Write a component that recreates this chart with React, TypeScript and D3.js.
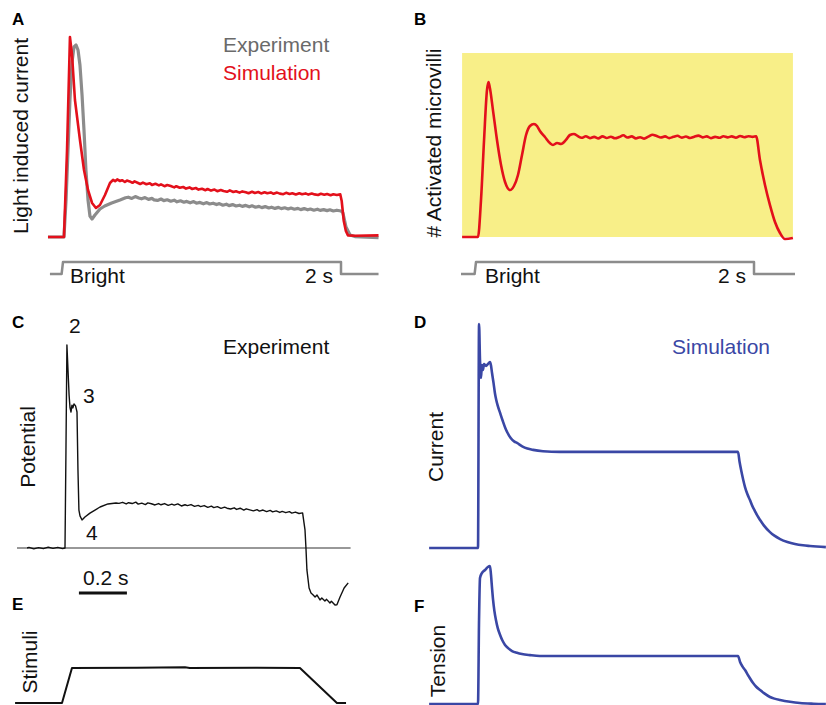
import React from "react";
import * as d3 from "d3";

type P = [number, number];

// ---------- Panel A: light induced current (t in s, value in % of simulated peak)
const simA: P[] = [
  [-0.108, 0], [0.007, 0], [0.029, 43.5], [0.05, 100], [0.065, 91], [0.086, 68.5], [0.122, 48.5],
  [0.151, 33.5], [0.18, 23.5], [0.209, 17], [0.237, 14.5], [0.266, 16], [0.302, 21], [0.338, 27],
  [0.36, 28.6], [0.375, 27.9], [0.39, 28.8], [0.41, 28.0], [0.425, 28.4], [0.445, 27.5], [0.46, 28.2],
  [0.48, 27.8], [0.50, 27.1], [0.515, 27.8], [0.54, 27.0], [0.555, 26.5], [0.575, 27.2], [0.60, 26.4],
  [0.625, 26.9], [0.64, 26.0], [0.665, 26.6], [0.69, 25.8], [0.705, 26.3], [0.73, 25.4], [0.75, 26.0],
  [0.775, 25.5], [0.80, 24.8], [0.815, 25.4], [0.84, 24.6], [0.865, 25.0], [0.885, 24.2], [0.91, 24.8],
  [0.93, 24.0], [0.955, 24.5], [0.975, 23.7], [1.0, 24.1], [1.025, 23.4], [1.04, 24.0], [1.065, 23.2],
  [1.09, 23.7], [1.11, 22.9], [1.135, 23.5], [1.155, 23.0], [1.18, 22.6], [1.20, 23.3], [1.225, 22.5],
  [1.245, 22.9], [1.27, 22.2], [1.29, 22.8], [1.315, 22.4], [1.335, 21.9], [1.36, 22.6], [1.38, 22.0],
  [1.405, 22.5], [1.425, 21.8], [1.45, 22.4], [1.47, 21.9], [1.495, 22.3], [1.515, 21.6], [1.54, 22.2],
  [1.56, 21.7], [1.585, 21.4], [1.605, 22.1], [1.63, 21.5], [1.65, 21.9], [1.675, 21.3], [1.70, 21.9],
  [1.72, 21.4], [1.745, 21.8], [1.765, 21.2], [1.79, 21.7], [1.81, 21.3], [1.835, 21.0], [1.855, 21.6],
  [1.88, 21.1], [1.90, 21.5], [1.925, 20.9], [1.945, 21.4], [1.97, 21.0], [1.995, 21.3],
  [2.005, 18], [2.02, 8], [2.035, 3], [2.05, 0.8], [2.1, 0.6], [2.27, 0.8],
];
const expA: P[] = [
  [-0.108, 0], [0.007, 0], [0.022, 18.5], [0.036, 43.5], [0.05, 68.5], [0.065, 87.5], [0.079, 95],
  [0.094, 96], [0.108, 93.5], [0.122, 86], [0.137, 71], [0.151, 53.5], [0.165, 33.5], [0.18, 18.5],
  [0.194, 10.5], [0.209, 9], [0.23, 11], [0.266, 14], [0.30, 15.5], [0.35, 17], [0.41, 18.5],
  [0.45, 19.6], [0.47, 19.9], [0.495, 19.3], [0.52, 20.2], [0.545, 19.5], [0.565, 19.1], [0.59, 19.7],
  [0.615, 18.8], [0.64, 19.3], [0.655, 18.6], [0.68, 18.3], [0.705, 19.0], [0.725, 18.2], [0.75, 18.6],
  [0.775, 17.9], [0.80, 18.4], [0.82, 17.6], [0.845, 18.1], [0.87, 17.4], [0.89, 17.8], [0.915, 17.1],
  [0.94, 17.7], [0.96, 16.9], [0.985, 17.3], [1.01, 16.6], [1.035, 17.2], [1.055, 16.5], [1.08, 16.9],
  [1.105, 16.2], [1.125, 16.7], [1.15, 15.9], [1.175, 16.4], [1.195, 15.7], [1.22, 16.2], [1.245, 15.5],
  [1.27, 15.9], [1.29, 15.3], [1.315, 15.8], [1.34, 15.1], [1.36, 15.6], [1.385, 14.9], [1.41, 15.3],
  [1.43, 14.7], [1.455, 15.2], [1.48, 14.5], [1.50, 14.9], [1.525, 14.3], [1.55, 14.8], [1.57, 14.2],
  [1.595, 14.6], [1.62, 14.0], [1.64, 14.5], [1.665, 13.9], [1.69, 14.3], [1.71, 13.7], [1.735, 14.2],
  [1.76, 13.6], [1.78, 14.0], [1.805, 13.4], [1.83, 13.9], [1.85, 13.3], [1.875, 13.7], [1.90, 13.2],
  [1.92, 13.6], [1.945, 13.0], [1.97, 13.4], [2.0, 13.0], [2.014, 12], [2.036, 5], [2.065, 1],
  [2.1, 0.2], [2.27, -0.3],
];
const stimA: P[] = [[-0.094, 0], [-0.01, 0], [0.0, 1], [2.0, 1], [2.0, 0], [2.27, 0]];

// ---------- Panel B: # activated microvilli (% of peak)
const microB: P[] = [
  [-0.1, 0], [0.014, 0], [0.036, 23.9], [0.058, 62.6], [0.079, 94.8], [0.09, 100], [0.10, 96.1],
  [0.122, 81.9], [0.151, 62.6], [0.18, 46.5], [0.209, 35.5], [0.245, 30.3], [0.273, 32.9], [0.302, 40],
  [0.331, 52.9], [0.36, 65.8], [0.388, 71.6], [0.417, 72.9], [0.439, 71.6], [0.46, 68.4], [0.496, 64.5],
  [0.532, 60.6], [0.554, 59.4], [0.583, 60.6], [0.612, 60], [0.647, 62.6], [0.676, 65.8], [0.705, 66.5],
  [0.73, 65.2], [0.76, 64.0], [0.79, 65.0], [0.82, 63.8], [0.85, 64.6], [0.88, 63.6], [0.91, 64.9],
  [0.94, 63.9], [0.97, 64.7], [1.00, 63.7], [1.03, 64.5], [1.06, 65.6], [1.09, 64.2], [1.12, 64.9],
  [1.15, 63.6], [1.18, 64.4], [1.21, 63.5], [1.24, 64.8], [1.27, 66.0], [1.30, 65.1], [1.33, 64.2],
  [1.36, 64.9], [1.39, 63.8], [1.42, 64.6], [1.45, 65.3], [1.48, 64.1], [1.51, 64.8], [1.54, 63.9],
  [1.57, 64.7], [1.60, 65.4], [1.63, 64.3], [1.66, 64.9], [1.69, 63.8], [1.72, 64.6], [1.75, 64.0],
  [1.78, 65.0], [1.81, 64.3], [1.84, 64.9], [1.87, 64.1], [1.90, 65.2], [1.93, 64.4], [1.96, 65.0],
  [1.99, 64.6], [2.015, 65.0], [2.043, 49.7], [2.079, 33.5], [2.115, 20.6], [2.151, 9.7],
  [2.187, 2.6], [2.223, -1.3], [2.28, -0.6],
];
const stimB: P[] = [[-0.108, 0], [-0.01, 0], [0.0, 1], [2.0, 1], [2.0, 0], [2.295, 0]];
const fieldB: P = [-0.1, 2.28];
const fieldTopB = 118.7;

// ---------- Panel C: experimental potential (% of peak)
const potC: P[] = [
  [-0.158, 0], [-0.15, 0.3], [-0.13, -0.4], [-0.11, 0.2], [-0.09, -0.3], [-0.07, 0.4], [-0.05, -0.2],
  [-0.03, 0.3], [-0.01, -0.3], [0.0, 0], [0.004, 48], [0.008, 100], [0.0125, 87.7], [0.017, 75.4],
  [0.021, 69], [0.025, 67], [0.029, 70.4], [0.033, 69], [0.0375, 71], [0.044, 70], [0.05, 67],
  [0.054, 38.4], [0.058, 18.7], [0.0625, 15.8], [0.071, 13.8], [0.083, 15.3], [0.104, 17.2],
  [0.125, 18.7], [0.146, 20.2], [0.179, 21.7], [0.2125, 22.2], [0.225, 22.0], [0.24, 22.5], [0.255, 21.7],
  [0.265, 22.3], [0.28, 21.9], [0.295, 22.6], [0.305, 21.6], [0.32, 22.1], [0.335, 21.4], [0.345, 22.2],
  [0.36, 21.8], [0.375, 21.2], [0.39, 21.9], [0.40, 21.3], [0.415, 21.9], [0.43, 21.0], [0.445, 21.6],
  [0.455, 21.1], [0.47, 21.7], [0.485, 20.7], [0.50, 21.3], [0.51, 20.9], [0.525, 21.4], [0.54, 20.5],
  [0.555, 21.0], [0.565, 20.4], [0.58, 20.9], [0.595, 20.0], [0.61, 20.6], [0.62, 19.9], [0.635, 20.4],
  [0.65, 19.5], [0.665, 20.1], [0.675, 19.6], [0.69, 19.2], [0.705, 19.8], [0.715, 19.0], [0.73, 19.6],
  [0.745, 18.7], [0.755, 19.3], [0.77, 18.8], [0.785, 18.3], [0.80, 18.9], [0.81, 18.2], [0.825, 18.7],
  [0.84, 17.9], [0.855, 18.5], [0.865, 17.8], [0.88, 18.3], [0.895, 17.5], [0.905, 18.0], [0.92, 17.4],
  [0.935, 17.9], [0.945, 17.2], [0.96, 17.7], [0.975, 17.0], [0.99, 17.3],
  [1.0, 8.9], [1.004, 0], [1.008, -10.8], [1.017, -19.7], [1.025, -22.2], [1.033, -23.0],
  [1.042, -24.1], [1.05, -23.2], [1.0625, -25.6], [1.07, -24.6], [1.083, -26.1], [1.09, -25.3],
  [1.104, -27.1], [1.11, -26.2], [1.125, -28.1], [1.133, -28.0], [1.146, -24.1], [1.163, -19.7],
  [1.18, -17.2],
];
const axisC: P = [-0.2, 1.19];
const scaleBarC: P = [0.058, 0.258];

// ---------- Panel E: stimuli
const stimE: P[] = [
  [-0.208, 0], [-0.0125, 0], [0.029, 1], [0.3, 1.01], [0.5, 1.02], [0.52, 1.0], [0.8, 1.01], [0.979, 1],
  [1.133, 0], [1.171, 0],
];

// ---------- Panel D: simulated current (% of peak)
const curD: P[] = [
  [-0.188, 0], [0.0, 0], [0.004, 100], [0.0077, 83.9], [0.0115, 75.9], [0.015, 81.7], [0.019, 79.5],
  [0.023, 82.1], [0.031, 81.3], [0.038, 82.1], [0.046, 83], [0.05, 81.5], [0.054, 78.1], [0.06, 73.5],
  [0.065, 69.2], [0.07, 66.2], [0.075, 63.9], [0.085, 60.3], [0.095, 56.8], [0.105, 53.6], [0.112, 51.8],
  [0.125, 49.2], [0.14, 47.5], [0.15, 46.9], [0.17, 45.4], [0.19, 44.4], [0.212, 43.8], [0.25, 43.2],
  [0.315, 42.9], [1.0, 42.9], [1.006, 38.5], [1.012, 34.8], [1.02, 30.5], [1.027, 27.2], [1.036, 24.1],
  [1.046, 21.4], [1.055, 18.8], [1.065, 16.5], [1.075, 14.3], [1.085, 12.5], [1.1, 10.0], [1.123, 7.1],
  [1.14, 5.5], [1.162, 4], [1.19, 2.7], [1.219, 1.8], [1.25, 1.2], [1.277, 0.9], [1.338, 0.4],
];

// ---------- Panel F: simulated tension (% of peak)
const tenF: P[] = [
  [-0.188, 0], [0.0, 0], [0.004, 60.9], [0.0077, 91.3], [0.015, 94.9], [0.027, 97.1], [0.038, 99.3],
  [0.046, 100], [0.05, 93.5], [0.054, 84], [0.058, 75.4], [0.063, 67.5], [0.069, 60.9], [0.076, 55],
  [0.085, 50], [0.094, 46], [0.104, 42.8], [0.117, 40.3], [0.131, 38.4], [0.15, 37.1], [0.169, 36.2],
  [0.2, 35.4], [0.238, 34.8], [1.0, 34.8], [1.008, 30.5], [1.017, 27.3], [1.027, 24.6], [1.04, 20.5],
  [1.058, 15.2], [1.07, 12.5], [1.085, 10.1], [1.1, 7.9], [1.123, 5.1], [1.14, 3.9], [1.162, 2.9],
  [1.2, 1.6], [1.238, 0.7], [1.29, 0.2], [1.338, 0],
];

const FONT = "'Liberation Sans', Arial, Helvetica, sans-serif";
const RED = "#e3101b";
const GRAY = "#8c8c8c";
const BLUE = "#3a47a5";

function path(data: P[], x: d3.ScaleLinear<number, number>, y: d3.ScaleLinear<number, number>, curve: d3.CurveFactory = d3.curveLinear) {
  return d3.line<P>().x((d) => x(d[0])).y((d) => y(d[1])).curve(curve)(data) || "";
}

export default function App() {
  const xA = d3.scaleLinear().domain([0, 2]).range([63, 341]);
  const yA = d3.scaleLinear().domain([0, 100]).range([237, 37]);
  const ySA = d3.scaleLinear().domain([0, 1]).range([274, 262]);

  const xB = d3.scaleLinear().domain([0, 2]).range([476, 754]);
  const yB = d3.scaleLinear().domain([0, 100]).range([237, 82]);
  const ySB = d3.scaleLinear().domain([0, 1]).range([274, 262]);

  const xC = d3.scaleLinear().domain([0, 1]).range([65, 305]);
  const yC = d3.scaleLinear().domain([0, 100]).range([548, 345]);
  const yE = d3.scaleLinear().domain([0, 1]).range([703, 668]);

  const xD = d3.scaleLinear().domain([0, 1]).range([478, 738]);
  const yD = d3.scaleLinear().domain([0, 100]).range([548, 324]);
  const yF = d3.scaleLinear().domain([0, 100]).range([704, 566]);

  const txt = { fontFamily: FONT, fontSize: 21 } as const;
  const lab = { fontFamily: FONT, fontSize: 17, fontWeight: 700 } as const;

  return (
    <svg
      width={826}
      height={705}
      style={{ position: "absolute", left: 0, top: 0, background: "#fff" }}
    >
      <rect x={0} y={0} width={826} height={705} fill="#fff" />

      {/* Panel A */}
      <text x={12} y={25} {...lab}>A</text>
      <text transform="translate(28,136) rotate(-90)" textAnchor="middle" {...txt} fill="#111">Light induced current</text>
      <text x={223} y={52} {...txt} fill="#6a6a6a">Experiment</text>
      <text x={223} y={80} {...txt} fill={RED}>Simulation</text>
      <path d={path(expA, xA, yA)} fill="none" stroke={GRAY} strokeWidth={3.2} strokeLinejoin="round" />
      <path d={path(simA, xA, yA)} fill="none" stroke={RED} strokeWidth={2.6} strokeLinejoin="round" />
      <path d={path(stimA, xA, ySA)} fill="none" stroke={GRAY} strokeWidth={2.5} strokeLinejoin="round" />
      <text x={70} y={283} {...txt} fill="#111">Bright</text>
      <text x={305} y={283} {...txt} fill="#111">2 s</text>

      {/* Panel B */}
      <text x={414} y={25} {...lab}>B</text>
      <rect
        x={xB(fieldB[0])}
        y={yB(fieldTopB)}
        width={xB(fieldB[1]) - xB(fieldB[0])}
        height={yB(0) - yB(fieldTopB)}
        fill="#f8ef88"
      />
      <path d={path(microB, xB, yB, d3.curveMonotoneX)} fill="none" stroke={RED} strokeWidth={2.6} strokeLinejoin="round" />
      <text transform="translate(441,143) rotate(-90)" textAnchor="middle" {...txt} fill="#111"># Activated microvilli</text>
      <path d={path(stimB, xB, ySB)} fill="none" stroke={GRAY} strokeWidth={2.5} strokeLinejoin="round" />
      <text x={485} y={283} {...txt} fill="#111">Bright</text>
      <text x={718} y={283} {...txt} fill="#111">2 s</text>

      {/* Panel C */}
      <text x={12} y={328} {...lab}>C</text>
      <text x={69} y={333} {...txt} fill="#111">2</text>
      <text x={83} y={403} {...txt} fill="#111">3</text>
      <text x={86} y={540} {...txt} fill="#111">4</text>
      <text x={223} y={354} {...txt} fill="#111">Experiment</text>
      <text transform="translate(35,447) rotate(-90)" textAnchor="middle" {...txt} fill="#111">Potential</text>
      <line x1={xC(axisC[0])} x2={xC(axisC[1])} y1={yC(0)} y2={yC(0)} stroke="#333" strokeWidth={1.1} />
      <path d={path(potC, xC, yC)} fill="none" stroke="#111" strokeWidth={1.4} strokeLinejoin="round" />
      <text x={83} y={585} {...txt} fill="#111">0.2 s</text>
      <line x1={xC(scaleBarC[0])} x2={xC(scaleBarC[1])} y1={593} y2={593} stroke="#111" strokeWidth={3} />

      {/* Panel E */}
      <text x={12} y={610} {...lab}>E</text>
      <text transform="translate(37,662) rotate(-90)" textAnchor="middle" {...txt} fill="#111">Stimuli</text>
      <path d={path(stimE, xC, yE)} fill="none" stroke="#111" strokeWidth={2} strokeLinejoin="round" />

      {/* Panel D */}
      <text x={414} y={328} {...lab}>D</text>
      <text x={672} y={354} {...txt} fill={BLUE}>Simulation</text>
      <text transform="translate(443,447) rotate(-90)" textAnchor="middle" {...txt} fill="#111">Current</text>
      <path d={path(curD, xD, yD, d3.curveMonotoneX)} fill="none" stroke={BLUE} strokeWidth={2.6} strokeLinejoin="round" />

      {/* Panel F */}
      <text x={414} y={612} {...lab}>F</text>
      <text transform="translate(445,661) rotate(-90)" textAnchor="middle" {...txt} fill="#111">Tension</text>
      <path d={path(tenF, xD, yF, d3.curveMonotoneX)} fill="none" stroke={BLUE} strokeWidth={2.6} strokeLinejoin="round" />
    </svg>
  );
}
